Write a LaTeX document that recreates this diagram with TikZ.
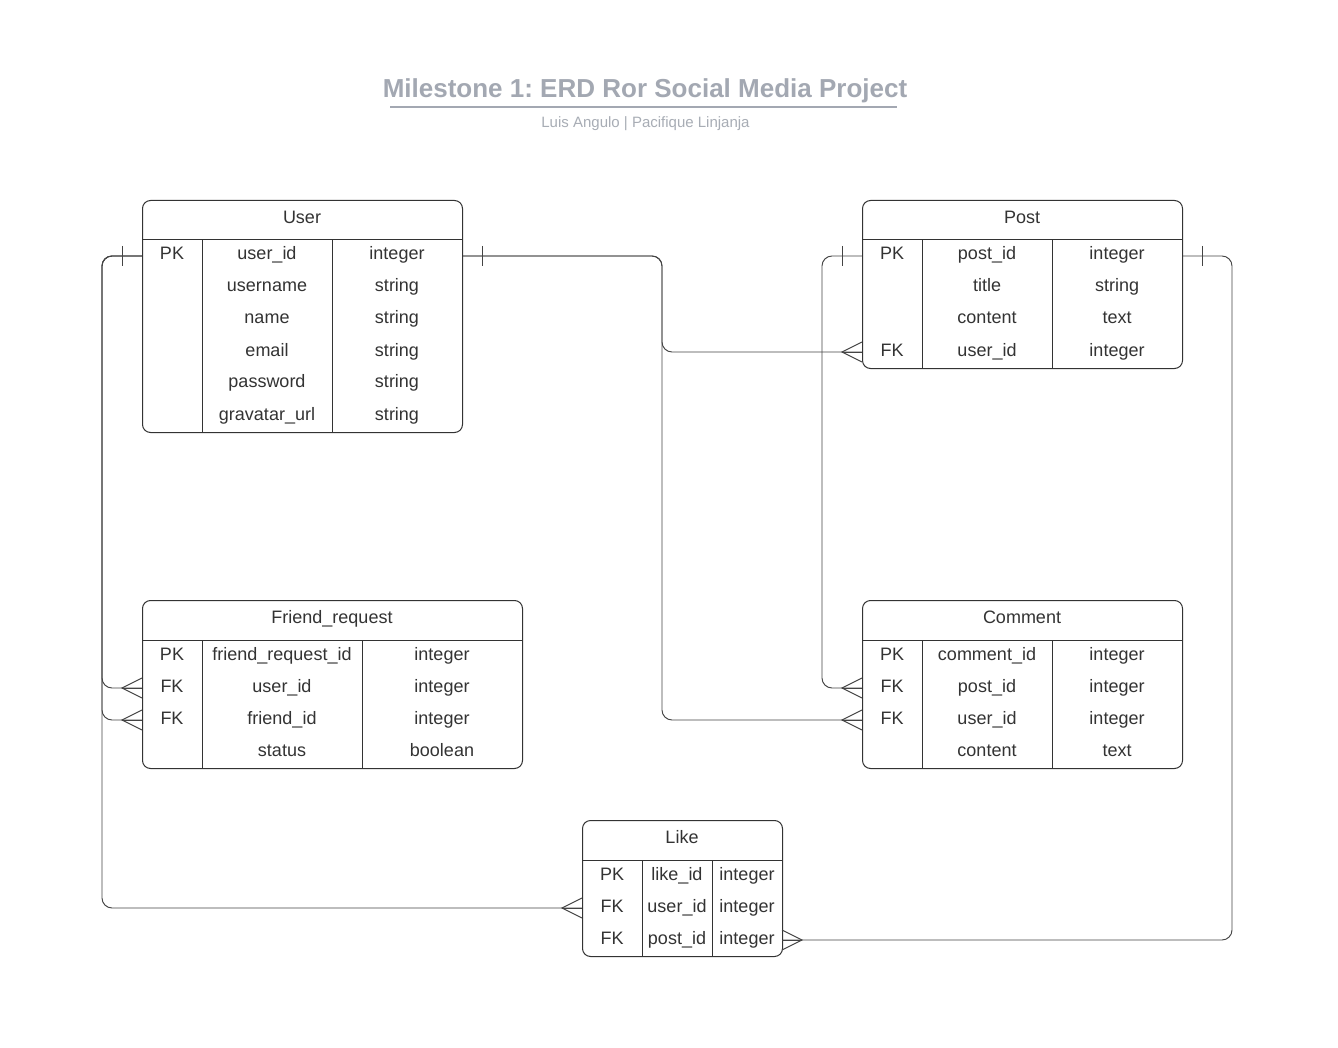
\documentclass[tikz,border=0pt]{standalone}
\usepackage{fontspec}
\setmainfont{Liberation Sans}
\usetikzlibrary{calc}
\frenchspacing
\definecolor{linec}{HTML}{333333}
\definecolor{connc}{HTML}{444444}
\definecolor{txt}{HTML}{333333}
\definecolor{titlec}{HTML}{A3A8B2}
\definecolor{subc}{HTML}{A8ADB5}
\tikzset{
  tabbox/.style={draw=linec, line width=1pt, rounded corners=8pt, inner sep=0pt, fill=white},
  tabline/.style={draw=linec, line width=1pt},
  cell/.style={font=\fontsize{18}{21}\selectfont, text=txt, anchor=base, inner sep=0pt},
  conn/.style={draw=connc, line width=0.95pt, rounded corners=10pt},
  erdend/.style={draw=connc, line width=0.95pt},
}
% #1 name, #2 left, #3 top, #4 right, #5 col1, #6 col2, #7 title, #8 nrows, #9 rows
\newcommand\erdtab[9]{%
  \pgfmathsetmacro\erdW{#4-#2}%
  \pgfmathsetmacro\erdH{40+32*#8}%
  \node[tabbox, anchor=north west, minimum width=\erdW pt, minimum height=\erdH pt] (#1) at (#2,#3) {};
  \node[cell] (#1-title) at ({(#2+#4)/2},#3+23.5) {#7};
  \draw[tabline] (#2,#3+40) -- (#4,#3+40);
  \draw[tabline] (#5,#3+40) -- (#5,#3+\erdH);
  \draw[tabline] (#6,#3+40) -- (#6,#3+\erdH);
  \foreach \k/\f/\t [count=\i] in {#9} {
    \node[cell] (#1-k\i) at ({(#2+#5)/2},#3+40+32*\i-12) {\k};
    \node[cell] (#1-f\i) at ({(#5+#6)/2},#3+40+32*\i-12) {\f};
    \node[cell] (#1-t\i) at ({(#6+#4)/2},#3+40+32*\i-12) {\t};
    \coordinate (#1-L\i) at (#2,#3+40+32*\i-16);
    \coordinate (#1-R\i) at (#4,#3+40+32*\i-16);
  }
}
\newcommand\erdbar[2]{%
  \draw[erdend] ($(#1)+(#2*20,-10)$) -- ($(#1)+(#2*20,10)$);}
\newcommand\erdcrow[2]{%
  \draw[erdend] ($(#1)+(0,-10)$) -- ($(#1)+(#2*20,0)$) -- ($(#1)+(0,10)$);
  \draw[erdend] (#1) -- ($(#1)+(#2*20,0)$);}
\begin{document}
\begin{tikzpicture}[x=1pt,y=-1pt]
\useasboundingbox[fill=white] (0,0) rectangle (1338,1048);

% title
\node[font=\bfseries\fontsize{26}{31}\selectfont, text=titlec, anchor=base, inner sep=0pt] (title) at (645,98) {Milestone 1: ERD Ror Social Media Project};
\draw[titlec, line width=2pt] (390,107) -- (897,107);
\node[font=\fontsize{15}{18}\selectfont, text=subc, anchor=base, inner sep=0pt] (subtitle) at (645.5,128) {Luis Angulo | Pacifique Linjanja};

% bus coordinates
\coordinate (busA) at (102,0);
\coordinate (busB) at (662,0);
\coordinate (busC) at (822,0);
\coordinate (busD) at (1232,0);

% connector end points
\coordinate (uL) at (142,256);
\coordinate (uR) at (462,256);
\coordinate (pL) at (862,256);
\coordinate (pR) at (1182,256);
\coordinate (pF) at (862,352);
\coordinate (fU) at (142,688);
\coordinate (fF) at (142,720);
\coordinate (cP) at (862,688);
\coordinate (cU) at (862,720);
\coordinate (lU) at (582,908);
\coordinate (lP) at (782,940);

\draw[conn] (uL) -- (uL -| busA) -- (fU -| busA) -- (fU);
\draw[conn] (uL) -- (uL -| busA) -- (fF -| busA) -- (fF);
\draw[conn] (uL) -- (uL -| busA) -- (lU -| busA) -- (lU);
\draw[conn] (uR) -- (uR -| busB) -- (pF -| busB) -- (pF);
\draw[conn] (uR) -- (uR -| busB) -- (cU -| busB) -- (cU);
\draw[conn] (pL) -- (pL -| busC) -- (cP -| busC) -- (cP);
\draw[conn] (pR) -- (pR -| busD) -- (lP -| busD) -- (lP);

% tables
\erdtab{user}{142}{200}{462}{202}{332}{User}{6}{PK/user\_id/integer, {}/username/string, {}/name/string, {}/email/string, {}/password/string, {}/gravatar\_url/string}
\erdtab{post}{862}{200}{1182}{922}{1052}{Post}{4}{PK/post\_id/integer, {}/title/string, {}/content/text, FK/user\_id/integer}
\erdtab{freq}{142}{600}{522}{202}{362}{Friend\_request}{4}{PK/friend\_request\_id/integer, FK/user\_id/integer, FK/friend\_id/integer, {}/status/boolean}
\erdtab{comment}{862}{600}{1182}{922}{1052}{Comment}{4}{PK/comment\_id/integer, FK/post\_id/integer, FK/user\_id/integer, {}/content/text}
\erdtab{like}{582}{820}{782}{642}{712}{Like}{3}{PK/like\_id/integer, FK/user\_id/integer, FK/post\_id/integer}

% ends
\erdbar{uL}{-1}
\erdbar{uR}{1}
\erdbar{pL}{-1}
\erdbar{pR}{1}
\erdcrow{pF}{-1}
\erdcrow{fU}{-1}
\erdcrow{fF}{-1}
\erdcrow{cP}{-1}
\erdcrow{cU}{-1}
\erdcrow{lU}{-1}
\erdcrow{lP}{1}
\end{tikzpicture}
\end{document}
